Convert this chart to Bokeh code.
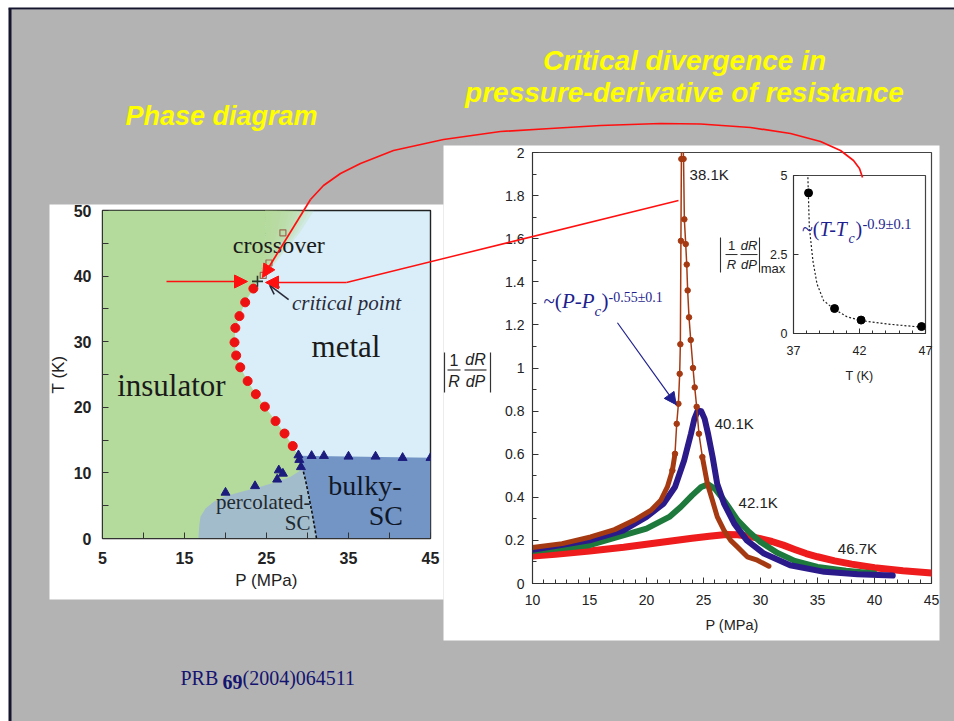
import numpy as np
from bokeh.plotting import figure
from bokeh.models import Range1d, FixedTicker, CustomJSTickFormatter, Arrow, NormalHead, OpenHead
from bokeh.layouts import column
from bokeh.core.properties import value
from bokeh.embed import file_html
from bokeh.resources import INLINE

SANS_NAME = "Liberation Sans"
SANS = value(SANS_NAME)
SERIF = value("Liberation Serif")
NAVY = "#1f1f8f"

# ---------------- Phase diagram data (P in MPa, T in K) ----------------
pd_P_ticks = [5, 15, 25, 35, 45]
pd_P_minor = [10, 20, 30, 40]
pd_T_ticks = [0, 10, 20, 30, 40, 50]
pd_T_minor = [5, 15, 25, 35, 45]
mit_P = [28.2, 27.2, 26.1, 24.8, 23.7, 22.7, 21.8, 21.3, 21.1, 21.2, 21.7, 22.4, 23.4]
mit_T = [14.1, 16.0, 17.9, 20.1, 22.0, 24.0, 26.1, 27.9, 29.9, 32.1, 33.9, 36.0, 38.1]
crit_P = [23.9]
crit_T = [39.2]
cross_P = [24.6, 25.3, 27.0]
cross_T = [40.1, 42.0, 46.6]
cross_top_P = [27.8]
cross_top_T = [50.0]
sc_P = [20.0, 23.6, 26.3, 26.5, 27.0, 28.9, 29.0, 29.2, 30.5, 32.0, 35.0, 38.3, 41.6, 45.0]
sc_T = [7.0, 8.0, 9.0, 10.4, 9.9, 12.7, 12.0, 10.9, 12.6, 12.6, 12.5, 12.5, 12.3, 12.3]
perc_P = [16.7, 16.8, 16.95, 17.56, 18.57, 19.8, 21.83, 24.27, 26.3, 27.93, 28.94, 29.35]
perc_T = [0.0, 2.0, 3.3, 4.58, 5.6, 6.36, 7.1, 7.88, 8.65, 9.4, 10.2, 10.94]
div_P = [29.35, 29.76, 30.17, 30.57, 30.86, 31.1]
div_T = [10.94, 8.9, 6.36, 3.82, 1.78, 0.0]
bulk_P = [28.9, 45.0]
bulk_T = [12.6, 12.3]

# ---------------- |1/R dR/dP| curves ----------------
rv_P_ticks = [10, 15, 20, 25, 30, 35, 40, 45]
rv_V_ticks = [0, 0.2, 0.4, 0.6, 0.8, 1.0, 1.2, 1.4, 1.6, 1.8, 2.0]
p381_left = [10.0, 12.6, 15.1, 17.2, 18.9, 20.4, 21.25, 21.83, 22.27, 22.5, 22.65, 22.80, 22.91, 22.97, 23.02, 23.06, 23.08]
v381_left = [0.167, 0.185, 0.216, 0.25, 0.293, 0.34, 0.386, 0.448, 0.525, 0.602, 0.741, 0.834, 0.973, 1.11, 1.59, 1.97, 2.05]
p381_right = [23.2, 23.25, 23.32, 23.44, 23.53, 23.61, 23.73, 23.88, 24.08, 24.23, 24.40, 24.60, 24.90, 25.34, 25.78, 26.21, 26.8, 27.38, 27.97, 28.84, 29.72, 30.74]
v381_right = [2.05, 1.97, 1.69, 1.575, 1.48, 1.36, 1.235, 1.13, 1.0, 0.91, 0.82, 0.695, 0.587, 0.463, 0.386, 0.309, 0.247, 0.20, 0.17, 0.124, 0.108, 0.080]
p401 = [10, 15, 18, 20, 21.5, 22.5, 23.3, 23.9, 24.2, 24.5, 24.8, 25.1, 25.4, 25.8, 26.2, 26.8, 27.7, 28.8, 30.3, 32.6, 35.6, 38.5, 41.6]
v401 = [0.157, 0.2, 0.247, 0.309, 0.371, 0.448, 0.571, 0.695, 0.764, 0.803, 0.80, 0.764, 0.695, 0.587, 0.463, 0.371, 0.278, 0.2, 0.139, 0.085, 0.054, 0.043, 0.037]
p421 = [10, 15, 20, 22, 23, 24, 24.8, 25.4, 26.0, 26.6, 27.2, 28, 29, 30, 31.5, 33, 35, 37.5, 40]
v421 = [0.151, 0.178, 0.255, 0.309, 0.355, 0.409, 0.448, 0.46, 0.44, 0.40, 0.355, 0.293, 0.239, 0.193, 0.142, 0.105, 0.077, 0.059, 0.046]
p467 = [10, 12, 15, 18, 20, 22, 24, 25.5, 27, 28, 29, 30, 31, 32, 33, 34, 35, 36.5, 38, 40, 42.5, 45]
v467 = [0.127, 0.136, 0.151, 0.168, 0.182, 0.196, 0.21, 0.219, 0.227, 0.226, 0.219, 0.208, 0.195, 0.178, 0.158, 0.139, 0.124, 0.105, 0.09, 0.073, 0.059, 0.049]
curve_labels = ["38.1K", "40.1K", "42.1K", "46.7K"]
label_P = [25.5, 27.7, 29.8, 38.5]
label_V = [1.90, 0.741, 0.378, 0.162]

# ---------------- inset: maximum vs T ----------------
ins_T_ticks = [37, 42, 47]
ins_V_ticks = [0, 2.5, 5]
ins_T = [38.14, 40.11, 42.12, 46.7]
ins_V = [4.45, 0.79, 0.425, 0.22]
fit_T = [38.06, 38.09, 38.2, 38.47, 38.78, 39.28, 40.11, 41.05, 42.12, 44.1, 46.7, 47.0]
fit_V = [5.2, 4.95, 3.36, 2.30, 1.57, 1.04, 0.76, 0.53, 0.41, 0.30, 0.20, 0.19]

fmt_main = CustomJSTickFormatter(code="return Number(tick.toFixed(2)).toString();")
fmt_ins = CustomJSTickFormatter(code="return Number(tick.toFixed(2)).toString();")


def pix_fig(width, height, transparent):
    f = figure(width=width, height=height, x_range=Range1d(0, width), y_range=Range1d(height, 0),
               output_backend="svg", toolbar_location=None, tools="", min_border=0, frame_align=False,
               x_axis_location=None, y_axis_location=None, outline_line_color=None,
               background_fill_color=None if transparent else "white",
               border_fill_color=None if transparent else "white")
    f.grid.visible = False
    return f


def style_axes(p, tick_font_size, bold, label_size, tick_in):
    for ax in (p.xaxis[0], p.yaxis[0]):
        ax.major_tick_in = tick_in
        ax.major_tick_out = 0
        ax.minor_tick_in = tick_in - 1
        ax.minor_tick_out = 0
        ax.major_label_text_font = SANS_NAME
        ax.major_label_text_font_size = tick_font_size
        ax.major_label_text_font_style = "bold" if bold else "normal"
        ax.major_label_text_color = "#222222"
        ax.axis_label_text_font = SANS_NAME
        ax.axis_label_text_font_size = label_size
        ax.axis_label_text_font_style = "normal"
        ax.axis_label_text_color = "#222222"
        ax.axis_line_color = "#333333"
        ax.major_tick_line_color = "#333333"
        ax.minor_tick_line_color = "#333333"
    p.grid.visible = False


# ================= background slide =================
bg = pix_fig(954, 721, False)
bg.quad(left=[10], right=[954], top=[9], bottom=[721], fill_color="#b3b3b3", line_color=None)
bg.segment(x0=[8], y0=[8], x1=[954], y1=[8], line_color="#15152e", line_width=2)
bg.segment(x0=[9.5], y0=[8], x1=[9.5], y1=[721], line_color="#15152e", line_width=3)
bg.quad(left=[49, 443], right=[443, 939], top=[204, 145], bottom=[599, 640], fill_color="white", line_color=None)
bg.text(x=[221], y=[115], text=["Phase diagram"], text_font=SANS, text_font_size="27px",
        text_font_style="bold italic", text_color="#ffff00", text_align="center", text_baseline="middle")
bg.text(x=[684, 684], y=[60, 92], text=["Critical divergence in", "pressure-derivative of resistance"],
        text_font=SANS, text_font_size="28px", text_font_style="bold italic", text_color="#ffff00",
        text_align="center", text_baseline="middle")
bg.text(x=[180], y=[688], text=["PRB"], text_font=SERIF, text_font_size="20px", text_color="#141470")
bg.text(x=[222], y=[688], text=["69"], text_font=SERIF, text_font_size="20px", text_font_style="bold", text_color="#141470")
bg.text(x=[242], y=[688], text=["(2004)064511"], text_font=SERIF, text_font_size="20px", text_color="#141470")

# ================= phase diagram =================
lp = figure(width=420, height=418, x_range=Range1d(5, 45), y_range=Range1d(0, 50),
            output_backend="svg", toolbar_location=None, tools="", frame_align=False,
            min_border_left=82, min_border_right=10, min_border_top=20, min_border_bottom=70,
            background_fill_color="#d9eef8", border_fill_color=None,
            outline_line_color="#222222", outline_line_width=1.4)
lp.styles = {"position": "absolute", "left": "20px", "top": "190px"}
style_axes(lp, "16px", True, "17px", 6)
lp.xaxis.ticker = FixedTicker(ticks=pd_P_ticks, minor_ticks=pd_P_minor)
lp.yaxis.ticker = FixedTicker(ticks=pd_T_ticks, minor_ticks=pd_T_minor)
lp.xaxis.minor_tick_in = 6
lp.yaxis.minor_tick_in = 6
lp.xaxis.major_label_standoff = 13
lp.yaxis.major_label_standoff = 11
lp.xaxis.axis_label = "P (MPa)"
lp.yaxis.axis_label = "T (K)"
lp.xaxis.axis_label_standoff = 4
lp.yaxis.axis_label_standoff = 3

GREEN = "#b4da9c"
up_P = crit_P + cross_P + cross_top_P
up_T = crit_T + cross_T + cross_top_T
up_w = [6.0 * (t - crit_T[0]) / (cross_top_T[0] - crit_T[0]) for t in up_T]
up_left = [p - w / 2 for p, w in zip(up_P, up_w)]
solid_x = [5, div_P[0], div_P[0], bulk_P[0]] + mit_P + up_left + [5]
solid_y = [0, 0, div_T[0], bulk_T[0]] + mit_T + up_T + [cross_top_T[0]]
lp.patch(solid_x, solid_y, fill_color=GREEN, line_color=None)
N = 12
for k in range(1, N + 1):
    right = [pl + w * k / N for pl, w in zip(up_left, up_w)]
    lp.patch(up_left + right[::-1], up_T + up_T[::-1], fill_color=GREEN, fill_alpha=0.22, line_color=None)

lp.patch(perc_P + div_P[1:], perc_T + div_T[1:], fill_color="#a3bccc", line_color=None)
lp.patch(bulk_P + [45, div_P[-1]] + div_P[::-1][1:], bulk_T + [0, 0] + div_T[::-1][1:],
         fill_color="#7395c6", line_color=None)
lp.line(div_P, div_T, line_color="#111111", line_width=1.6, line_dash="3 2")
lp.scatter(mit_P, mit_T, marker="circle", size=9, fill_color="#ee1111", line_color="#ee1111")
lp.scatter(sc_P, sc_T, marker="triangle", size=9, fill_color="#1c1c7e", line_color="#1c1c7e")
lp.scatter(cross_P, cross_T, marker="square", size=6, fill_color=None, line_color="#9a6a52", line_width=1.2)
lp.scatter(crit_P, crit_T, marker="cross", size=11, line_color="#2a3a2a", line_width=1.6)

lp.text(x=[26.5], y=[44.7], text=["crossover"], text_font=SERIF, text_font_size="24px",
        text_color="#1a1a1a", text_align="center", text_baseline="middle")
lp.text(x=[34.75], y=[35.9], text=["critical point"], text_font=SERIF, text_font_size="21px",
        text_font_style="italic", text_color="#2a2a3a", text_align="center", text_baseline="middle")
lp.text(x=[34.7, 13.4], y=[29.2, 23.35], text=["metal", "insulator"], text_font=SERIF, text_font_size="31px",
        text_color="#1a1a1a", text_align="center", text_baseline="middle")
lp.text(x=[24.6, 28.8], y=[5.6, 2.4], text=["percolated-", "SC"], text_font=SERIF, text_font_size="21px",
        text_color="#1f2a30", text_align="center", text_baseline="middle")
lp.text(x=[37.0, 39.55], y=[8.1, 3.55], text=["bulky-", "SC"], text_font=SERIF, text_font_size="28px",
        text_color="#101828", text_align="center", text_baseline="middle")
lp.add_layout(Arrow(end=OpenHead(size=9, line_color="#2a2a3a", line_width=1.6),
                    x_start=27.7, y_start=36.4, x_end=25.4, y_end=38.6,
                    line_color="#2a2a3a", line_width=1.6))

# ================= resistance derivative plot =================
rp = figure(width=513, height=523, x_range=Range1d(10, 45), y_range=Range1d(0, 2),
            output_backend="svg", toolbar_location=None, tools="", frame_align=False,
            min_border_left=102, min_border_right=12, min_border_top=22, min_border_bottom=70,
            background_fill_color="white", border_fill_color=None,
            outline_line_color="#444444", outline_line_width=1.2)
rp.styles = {"position": "absolute", "left": "430px", "top": "130px"}
style_axes(rp, "14px", False, "14.5px", 6)
rp.xaxis.ticker = FixedTicker(ticks=rv_P_ticks, minor_ticks=list(range(10, 46)))
rp.yaxis.ticker = FixedTicker(ticks=rv_V_ticks, minor_ticks=[round(0.1 * i, 1) for i in range(21)])
rp.xaxis.minor_tick_in = 4
rp.yaxis.minor_tick_in = 4
rp.yaxis.formatter = fmt_main
rp.xaxis.major_label_standoff = 11
rp.yaxis.major_label_standoff = 8
rp.xaxis.axis_label = "P (MPa)"
rp.xaxis.axis_label_standoff = 9

rp.line(p467, v467, line_color="#ee1c1c", line_width=7, line_cap="round", line_join="round")
rp.line(p421, v421, line_color="#1e7a3c", line_width=6, line_cap="round", line_join="round")
rp.line(p401, v401, line_color="#2a1a8a", line_width=6, line_cap="round", line_join="round")
BROWN = "#a53a12"
for bp, bv in ((p381_left, v381_left), (p381_right, v381_right)):
    rp.line(bp, bv, line_color=BROWN, line_width=1.5)
    thick_p = [x for x, y in zip(bp, bv) if y <= 0.62]
    thick_v = [y for y in bv if y <= 0.62]
    rp.line(thick_p, thick_v, line_color=BROWN, line_width=5, line_cap="round", line_join="round")
    dot_p = [x for x, y in zip(bp, bv) if 0.5 < y < 2.0]
    dot_v = [y for y in bv if 0.5 < y < 2.0]
    rp.scatter(dot_p, dot_v, marker="circle", size=5.5, fill_color=BROWN, line_color=BROWN)
rp.text(x=label_P, y=label_V, text=curve_labels, text_font=SANS, text_font_size="15px",
        text_color="#222222", text_align="center", text_baseline="middle")
rp.add_layout(Arrow(end=NormalHead(size=12, fill_color=NAVY, line_color=NAVY),
                    x_start=17.45, y_start=1.21, x_end=22.6, y_end=0.83,
                    line_color=NAVY, line_width=1.2))

# ================= inset =================
ip = figure(width=187, height=233, x_range=Range1d(37, 47), y_range=Range1d(0, 5),
            output_backend="svg", toolbar_location=None, tools="", frame_align=False,
            min_border_left=43, min_border_right=12, min_border_top=15, min_border_bottom=60,
            background_fill_color="white", border_fill_color=None,
            outline_line_color="#444444", outline_line_width=1.2)
ip.styles = {"position": "absolute", "left": "750px", "top": "160px"}
style_axes(ip, "12.5px", False, "12.5px", 5)
ip.xaxis.ticker = FixedTicker(ticks=ins_T_ticks, minor_ticks=list(range(37, 48)))
ip.yaxis.ticker = FixedTicker(ticks=ins_V_ticks, minor_ticks=[])
ip.xaxis.minor_tick_in = 3
ip.yaxis.formatter = fmt_ins
ip.xaxis.major_label_standoff = 12
ip.yaxis.major_label_standoff = 6
ip.xaxis.axis_label = "T (K)"
ip.xaxis.axis_label_standoff = 11
ip.line(fit_T, fit_V, line_color="#222222", line_width=1.2, line_dash="2 2")
ip.scatter(ins_T, ins_V, marker="circle", size=8, fill_color="black", line_color="black")

# ================= overlay: labels and red connectors =================
ov = pix_fig(954, 721, True)
ov.styles = {"position": "absolute", "left": "0px", "top": "0px"}

# |1/R dR/dP| main label
ov.segment(x0=[444, 490, 447, 464], y0=[352, 352, 369.5, 369.5], x1=[444, 490, 460, 486], y1=[392, 392, 369.5, 369.5],
           line_color="#333333", line_width=1.2)
ov.text(x=[453.5], y=[359], text=["1"], text_font=SANS, text_font_size="16px", text_color="#222222",
        text_align="center", text_baseline="middle")
ov.text(x=[453.5, 475, 475], y=[381, 359, 381], text=["R", "dR", "dP"], text_font=SANS, text_font_size="16px",
        text_font_style="italic", text_color="#222222", text_align="center", text_baseline="middle")
# inset label
ov.segment(x0=[720, 759, 725, 740], y0=[237, 237, 254, 254], x1=[720, 759, 737, 757], y1=[272, 272, 254, 254],
           line_color="#333333", line_width=1.1)
ov.text(x=[731], y=[245], text=["1"], text_font=SANS, text_font_size="13px", text_color="#222222",
        text_align="center", text_baseline="middle")
ov.text(x=[731, 748.5, 748.5], y=[264, 245, 264], text=["R", "dR", "dP"], text_font=SANS, text_font_size="13px",
        text_font_style="italic", text_color="#222222", text_align="center", text_baseline="middle")
ov.text(x=[772.5], y=[268], text=["max"], text_font=SANS, text_font_size="13px", text_color="#222222",
        text_align="center", text_baseline="middle")

# power-law formulas
ov.text(x=[543], y=[312.5], text=["~("], text_font=SERIF, text_font_size="21px", text_color=NAVY)
ov.text(x=[561.5], y=[312.5], text=["P-P"], text_font=SERIF, text_font_size="21px", text_font_style="italic", text_color=NAVY)
ov.text(x=[594], y=[318], text=["c"], text_font=SERIF, text_font_size="15px", text_font_style="italic", text_color=NAVY)
ov.text(x=[601], y=[312.5], text=[")"], text_font=SERIF, text_font_size="21px", text_color=NAVY)
ov.text(x=[608], y=[304], text=["-0.55\u00b10.1"], text_font=SERIF, text_font_size="14px", text_color=NAVY)

ov.text(x=[801.5], y=[239.5], text=["~("], text_font=SERIF, text_font_size="20px", text_color=NAVY)
ov.text(x=[819], y=[239.5], text=["T-T"], text_font=SERIF, text_font_size="20px", text_font_style="italic", text_color=NAVY)
ov.text(x=[848], y=[245], text=["c"], text_font=SERIF, text_font_size="14px", text_font_style="italic", text_color=NAVY)
ov.text(x=[855], y=[239.5], text=[")"], text_font=SERIF, text_font_size="20px", text_color=NAVY)
ov.text(x=[862], y=[231], text=["-0.9\u00b10.1"], text_font=SERIF, text_font_size="14.5px", text_color=NAVY)

RED = "#ff1010"
arc_x = [862, 859, 853, 840, 820, 790, 750, 700, 660, 600, 550, 500, 443, 393, 360, 340, 323, 310]
arc_y = [177, 168, 160, 150, 141, 133, 127, 123.5, 123, 125, 128, 131, 139, 150, 163, 173, 185, 199]
ov.line(arc_x, arc_y, line_color=RED, line_width=1.7)
ov.add_layout(Arrow(end=NormalHead(size=13, fill_color=RED, line_color=RED), x_start=310, y_start=199,
                    x_end=262, y_end=277, line_color=RED, line_width=1.7))
ov.line([678, 346], [200, 282], line_color=RED, line_width=1.5)
ov.add_layout(Arrow(end=NormalHead(size=13, fill_color=RED, line_color=RED), x_start=346, y_start=282,
                    x_end=265, y_end=282, line_color=RED, line_width=1.5))
ov.add_layout(Arrow(end=NormalHead(size=13, fill_color=RED, line_color=RED), x_start=166, y_start=281,
                    x_end=247, y_end=281, line_color=RED, line_width=1.5))

layout = column(bg, lp, rp, ip, ov, width=954, height=721, styles={"position": "relative"})
open("out.html", "w").write(file_html(layout, INLINE))
